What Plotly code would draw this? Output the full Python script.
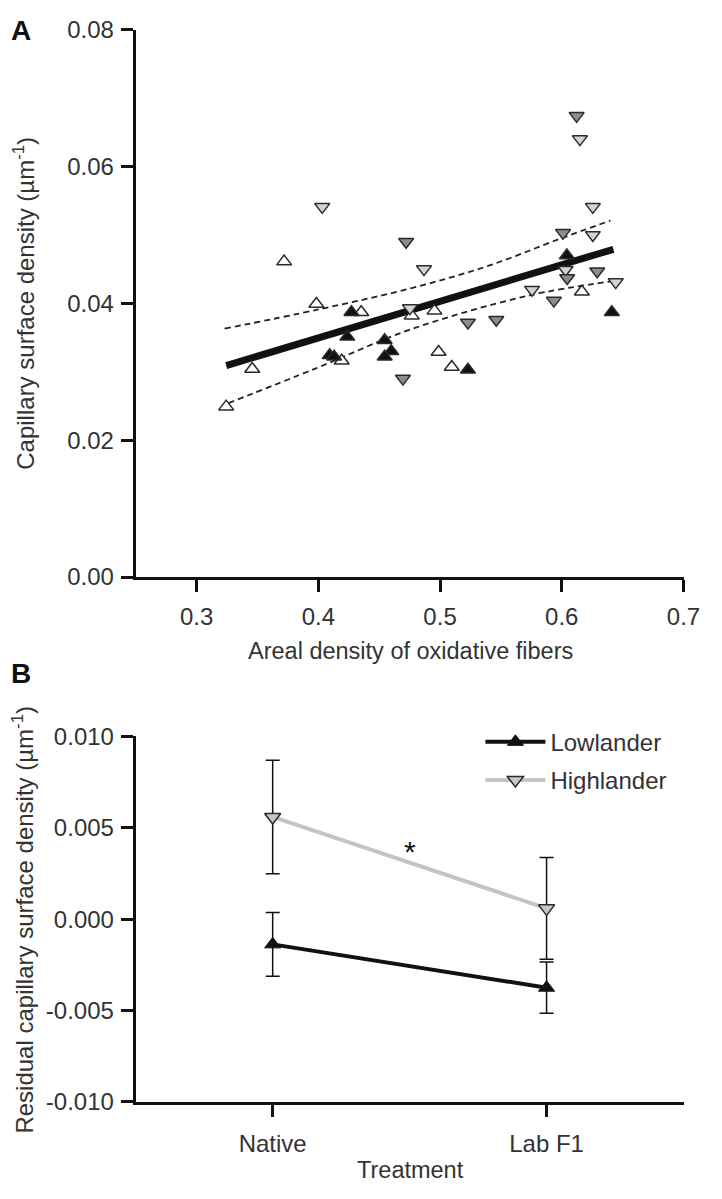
import plotly.graph_objects as go

W, H = 722, 1199

# ---------------- Panel A data ----------------
open_up_x = [0.3719, 0.3984, 0.4352, 0.4767, 0.4954, 0.4192, 0.3457, 0.3243, 0.4988, 0.5096, 0.6165]
open_up_y = [0.0461, 0.0399, 0.0387, 0.0382, 0.0389, 0.0316, 0.0304, 0.0249, 0.0329, 0.0307, 0.0417]
black_up_x = [0.4272, 0.4238, 0.4545, 0.4599, 0.4545, 0.4093, 0.4130, 0.5229, 0.6042, 0.6411]
black_up_y = [0.0387, 0.0351, 0.0346, 0.0330, 0.0322, 0.0324, 0.0322, 0.0303, 0.0470, 0.0387]
light_down_x = [0.4032, 0.4868, 0.4753, 0.6149, 0.6255, 0.6255, 0.5756, 0.6443, 0.6031]
light_down_y = [0.0541, 0.0450, 0.0393, 0.0640, 0.0541, 0.0500, 0.0420, 0.0431, 0.0449]
dark_down_x = [0.4721, 0.4695, 0.6122, 0.6010, 0.6291, 0.6044, 0.5935, 0.5229, 0.5462]
dark_down_y = [0.0490, 0.0290, 0.0674, 0.0503, 0.0447, 0.0437, 0.0404, 0.0372, 0.0376]

fit_x = [0.3243, 0.6424]
fit_y = [0.0309, 0.0479]
ci_upper_x = [0.323, 0.400, 0.476, 0.540, 0.598, 0.640]
ci_upper_y = [0.0363, 0.0391, 0.0422, 0.0455, 0.0494, 0.0521]
ci_lower_x = [0.326, 0.398, 0.476, 0.572, 0.644]
ci_lower_y = [0.0254, 0.0305, 0.0362, 0.0411, 0.0433]

xa_ticks = [0.3, 0.4, 0.5, 0.6, 0.7]
xa_labels = ["0.3", "0.4", "0.5", "0.6", "0.7"]
ya_ticks = [0.00, 0.02, 0.04, 0.06, 0.08]
ya_labels = ["0.00", "0.02", "0.04", "0.06", "0.08"]

# ---------------- Panel B data ----------------
treatments = ["Native", "Lab F1"]
low_mean = [-0.00138, -0.00375]
low_err = [0.00175, 0.00140]
high_mean = [0.00559, 0.00059]
high_err = [0.00310, 0.00278]
yb_ticks = [-0.010, -0.005, 0.000, 0.005, 0.010]
yb_labels = ["-0.010", "-0.005", "0.000", "0.005", "0.010"]

FONT = "Liberation Sans, Arial, sans-serif"
TXT = "#333"
OUT = "#2a2a2a"

fig = go.Figure()

# regression + CI (panel A)
for cx, cy in [(ci_upper_x, ci_upper_y), (ci_lower_x, ci_lower_y)]:
    fig.add_trace(go.Scatter(x=cx, y=cy, mode="lines", line=dict(color="#222", width=1.8, dash="6px,4px"),
                             line_shape="spline", showlegend=False, hoverinfo="skip", xaxis="x", yaxis="y"))
fig.add_trace(go.Scatter(x=fit_x, y=fit_y, mode="lines", line=dict(color="#111", width=7),
                         showlegend=False, hoverinfo="skip", xaxis="x", yaxis="y"))


def pts(x, y, sym, fill):
    fig.add_trace(go.Scatter(x=x, y=y, mode="markers", showlegend=False, xaxis="x", yaxis="y",
                             marker=dict(symbol=sym, size=13, color=fill, line=dict(color=OUT, width=1.5))))


pts(open_up_x, open_up_y, "triangle-up", "white")
pts(light_down_x, light_down_y, "triangle-down", "#d4d4d4")
pts(dark_down_x, dark_down_y, "triangle-down", "#8c8c8c")
pts(black_up_x, black_up_y, "triangle-up", "#111")

# panel B
fig.add_trace(go.Scatter(x=treatments, y=low_mean, name="Lowlander", legendgroup="low", mode="lines+markers",
                         line=dict(color="#111", width=4),
                         marker=dict(symbol="triangle-up", size=14, color="#111", line=dict(color="#111", width=1)),
                         error_y=dict(type="data", array=low_err, color="#111", thickness=1.5, width=7),
                         xaxis="x2", yaxis="y2"))
fig.add_trace(go.Scatter(x=treatments, y=high_mean, name="Highlander", legendgroup="high", mode="lines+markers",
                         line=dict(color="#c4c4c4", width=4),
                         marker=dict(symbol="triangle-down", size=14, color="#c8c8c8", line=dict(color=OUT, width=1.5)),
                         error_y=dict(type="data", array=high_err, color="#111", thickness=1.5, width=7),
                         xaxis="x2", yaxis="y2"))

axis_common = dict(showline=True, linecolor="#111", linewidth=3, ticks="outside", ticklen=12, tickwidth=3,
                   tickcolor="#111", showgrid=False, zeroline=False,
                   tickfont=dict(family=FONT, size=24, color=TXT), mirror=False)

xA = [139 / W, 700 / W]
yA = [1 - 576 / H, 1 - 16 / H]
yB = [1 - 1113 / H, 1 - 739 / H]


def px(xp, yp):
    return xp / W, 1 - yp / H


def ann(text, xp, yp, size, angle=0, bold=False):
    x, y = px(xp, yp)
    return dict(text=f"<b>{text}</b>" if bold else text, x=x, y=y, xref="paper", yref="paper",
                showarrow=False, textangle=angle, xanchor="center", yanchor="middle",
                font=dict(family=FONT, size=size, color="#111" if bold else TXT))


annotations = [
    ann("A", 21, 17, 28, bold=True),
    ann("B", 21, 675, 28, bold=True),
    ann("Areal density of oxidative fibers", 420, 652, 23.5),
    ann("Capillary surface density (µm<sup>-1</sup>)", 25, 296, 24, angle=-90),
    ann("Residual capillary surface density (µm<sup>-1</sup>)", 24, 926, 24, angle=-90),
    ann("Treatment", 420, 1183, 23.5),
    dict(text="*", x=0.5, y=0.0037, xref="x2", yref="y2", showarrow=False,
         font=dict(family=FONT, size=30, color="#111"), xanchor="center", yanchor="middle"),
]

fig.update_layout(
    width=W, height=H, margin=dict(l=0, r=0, t=0, b=0),
    plot_bgcolor="white", paper_bgcolor="white",
    font=dict(family=FONT, size=24, color=TXT),
    xaxis=dict(domain=xA, range=[0.25, 0.7], tickvals=xa_ticks, ticktext=xa_labels, anchor="y",
               ticklabelstandoff=4, **axis_common),
    yaxis=dict(domain=yA, range=[0, 0.08], tickvals=ya_ticks, ticktext=ya_labels, anchor="x",
               ticklabelstandoff=2, **axis_common),
    xaxis2=dict(domain=xA, type="category", range=[-0.5, 1.5], anchor="y2", ticklabelstandoff=6, **axis_common),
    yaxis2=dict(domain=yB, range=[-0.010, 0.010], tickvals=yb_ticks, ticktext=yb_labels, anchor="x2",
                ticklabelstandoff=2, **axis_common),
    legend=dict(x=492 / W, y=1 - 722 / H, xanchor="left", yanchor="top", bgcolor="rgba(0,0,0,0)",
                font=dict(family=FONT, size=24, color=TXT), itemwidth=60, tracegroupgap=4),
    annotations=annotations,
)

fig.write_html("out.html", config={"displayModeBar": False},
               post_script="document.body.style.margin='0px';")
